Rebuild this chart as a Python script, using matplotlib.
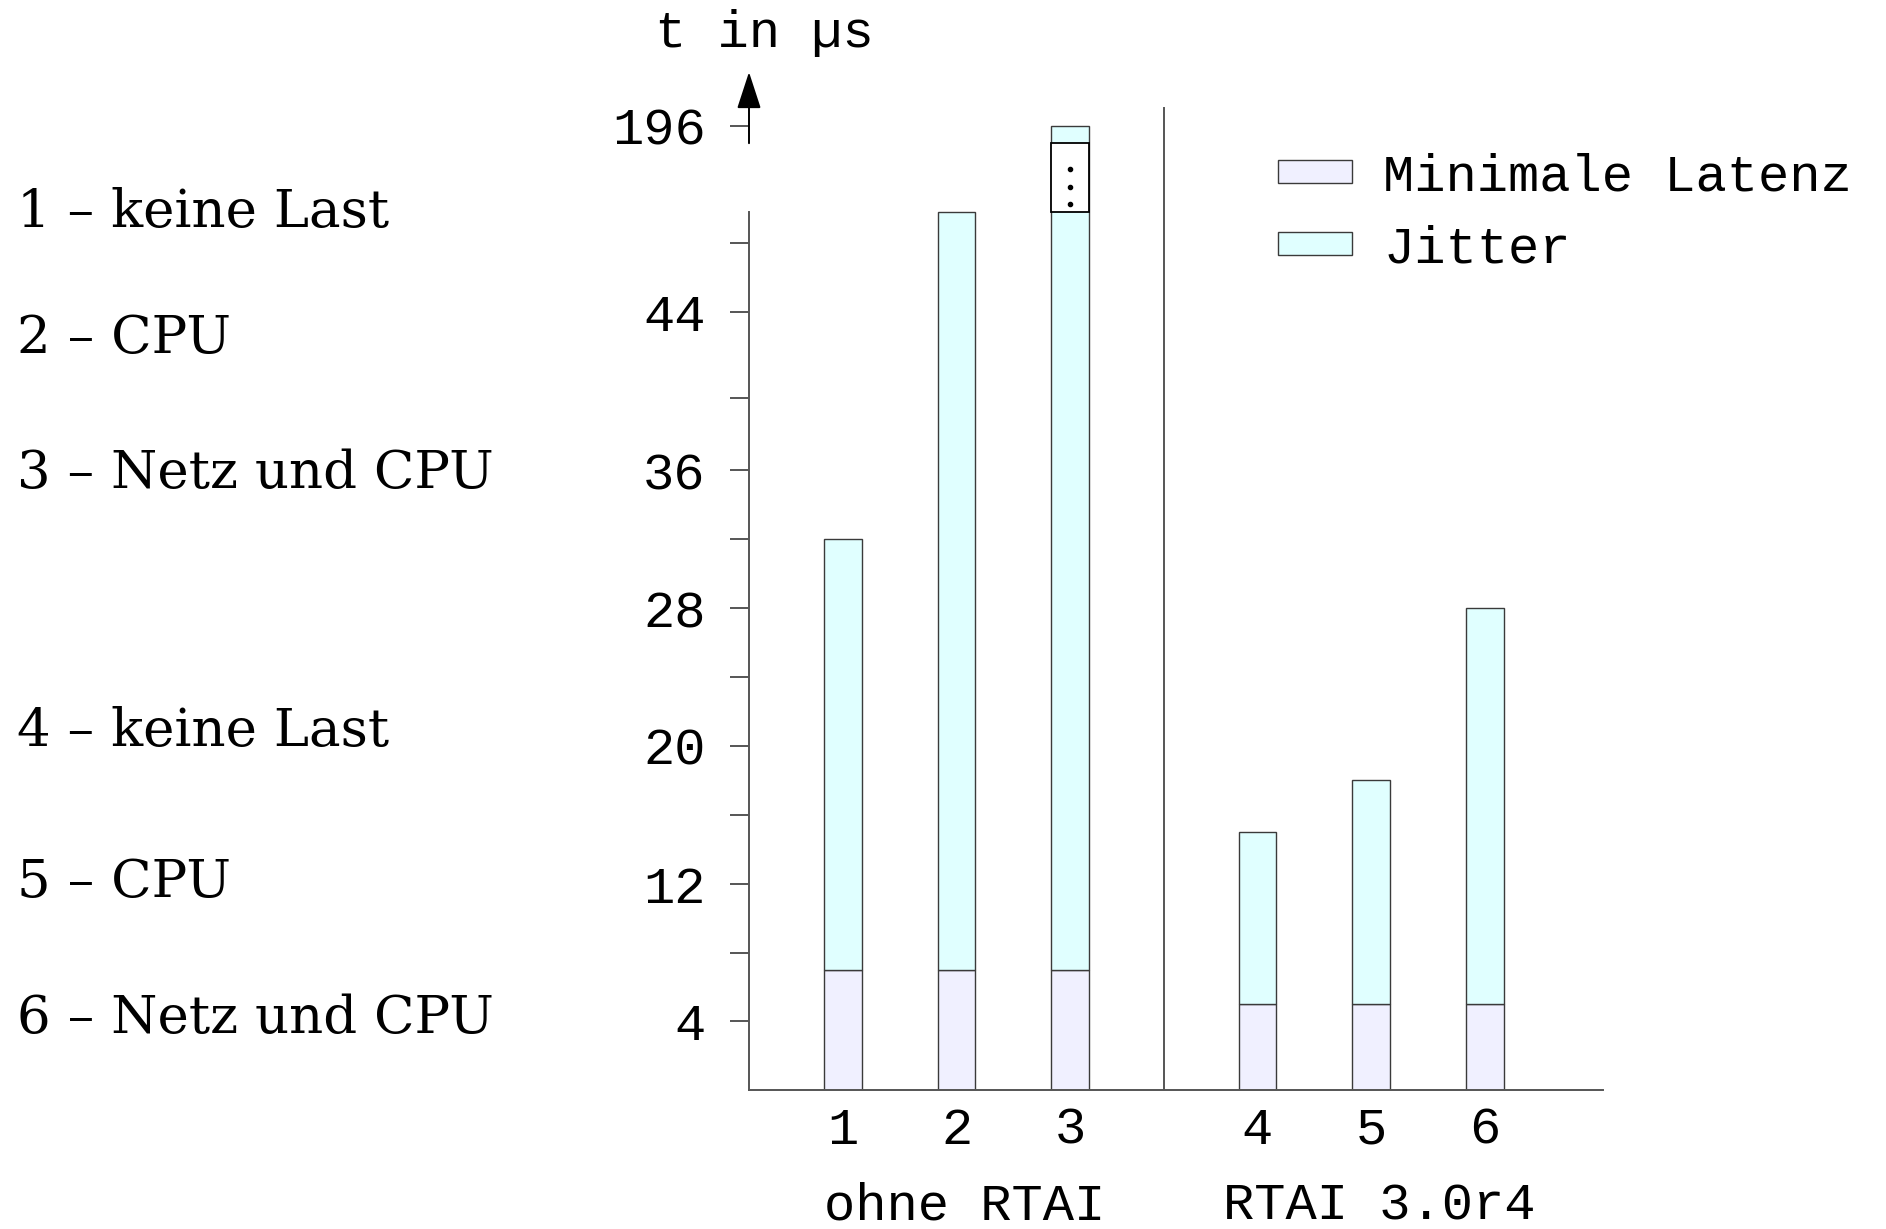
import numpy as np
import matplotlib.pyplot as plt

# Latenzmessung, Werte in Mikrosekunden
runs = ['1', '2', '3', '4', '5', '6']
min_latency = [7, 7, 7, 5, 5, 5]
max_latency = [32, 50, 196, 15, 18, 28]
jitter = [hi - lo for hi, lo in zip(max_latency, min_latency)]
groups = ['ohne RTAI', 'RTAI 3.0r4']
load_labels = ['1 – keine Last', '2 – CPU', '3 – Netz und CPU',
               '4 – keine Last', '5 – CPU', '6 – Netz und CPU']
major_ticks = [4, 12, 20, 28, 36, 44, 196]
minor_ticks = [8, 16, 24, 32, 40, 48]

# unterbrochene Achse zwischen 50 und 192
brk_lo, brk_hi = 50, 192
knot_val = [0, 36, 40, 44, 48, brk_lo, brk_hi, 196, 212]
knot_pos = [0, 36, 40.2, 45.2, 49.2, 51, 55, 56, 60]


def fwd(v):
    return np.interp(v, knot_val, knot_pos)


def inv(u):
    return np.interp(u, knot_pos, knot_val)


W, H = 1886, 1229
mono = 'Liberation Mono'
fs = 37.5
c_min = '#f0f0ff'
c_jit = '#e0ffff'
c_edge = '#3a3a3a'
c_axis = '#555555'

fig = plt.figure(figsize=(W / 100, H / 100), dpi=100)
ax = fig.add_axes([749 / W, 1 - 1090.3 / H, (1603 - 749) / W, (1090.3 - 60) / H])
ax.set_yscale('function', functions=(fwd, inv))

idx = np.arange(len(runs))
pos = idx + 1 + np.where(idx >= 3, 0.65, 0.0)
bw = 0.334

b1 = ax.bar(pos, min_latency, bw, color=c_min, edgecolor=c_edge, lw=1.0,
            label='Minimale Latenz')
b2 = ax.bar(pos, jitter, bw, bottom=min_latency, color=c_jit, edgecolor=c_edge,
            lw=1.0, label='Jitter')

# Unterbrechung im dritten Balken
ax.bar(pos[2], brk_hi - brk_lo, bw, bottom=brk_lo, color='white',
       edgecolor='black', lw=1.3)
u0, u1 = fwd(brk_lo), fwd(brk_hi)
dots = inv(u0 + (u1 - u0) * np.array([0.122, 0.368, 0.629]))
ax.scatter([pos[2]] * 3, dots, s=9, color='black', zorder=5)

ax.set_xlim(pos[0] - 0.827, pos[-1] + 1.042)
ax.set_ylim(0, inv((1090.3 - 60) / 17.22))

for s in ['top', 'right']:
    ax.spines[s].set_visible(False)
ax.spines['left'].set_bounds(0, brk_lo)
for s in ['left', 'bottom']:
    ax.spines[s].set_color(c_axis)
    ax.spines[s].set_linewidth(1.4)

# oberer Achsenteil mit Pfeil
ax.annotate('', xy=(0, inv(59.13)), xycoords=ax.get_yaxis_transform(),
            xytext=(0, brk_hi), textcoords=ax.get_yaxis_transform(),
            arrowprops=dict(arrowstyle='-|>,head_length=2.3,head_width=0.75',
                            mutation_scale=10, color='black', lw=1.4,
                            shrinkA=0, shrinkB=0))

# Trennlinie zwischen den Gruppen
ax.axvline((pos[2] + pos[3]) / 2, ymin=0, ymax=(1090.3 - 108) / (1090.3 - 60),
           color=c_axis, lw=1.4)

ax.set_yticks(major_ticks)
ax.set_yticks(minor_ticks, minor=True)
ax.set_yticklabels([str(t) for t in major_ticks])
ax.tick_params(axis='y', which='both', length=13.7, width=1.4, color=c_axis,
               direction='out', pad=17.5)
ax.tick_params(axis='y', labelsize=fs)
ax.set_xticks(pos, runs)
ax.tick_params(axis='x', length=0, pad=11, labelsize=fs)
for lab in ax.get_xticklabels() + ax.get_yticklabels():
    lab.set_fontfamily(mono)

# Gruppenbeschriftung
for g, x in zip(groups, [pos[:3].mean(), pos[3:].mean()]):
    ax.annotate(g, xy=(x, 0), xycoords=ax.get_xaxis_transform(),
                xytext=(6, -(1220 - 1090.3) * 0.72), textcoords='offset points',
                ha='center', va='baseline', fontsize=fs, family=mono,
                annotation_clip=False)

fig.text(655 / W, 1 - 46.7 / H, 't in µs', fontsize=fs, family=mono,
         ha='left', va='baseline')

leg = ax.legend(handles=[b1, b2], loc='upper left', frameon=False,
                bbox_to_anchor=(1275.5 / W, 1 - 150 / H),
                bbox_transform=fig.transFigure,
                prop={'family': mono, 'size': fs},
                handlelength=1.42, handleheight=0.31, handletextpad=0.6,
                labelspacing=0.44, borderpad=0.05, borderaxespad=0)

baselines = [226.7, 352.7, 487.7, 746, 896.7, 1033]
for txt, y in zip(load_labels, baselines):
    fig.text(17 / W, 1 - y / H, txt, fontsize=38.2, family='DejaVu Serif',
             ha='left', va='baseline')

fig.savefig('out.png', dpi=100)
